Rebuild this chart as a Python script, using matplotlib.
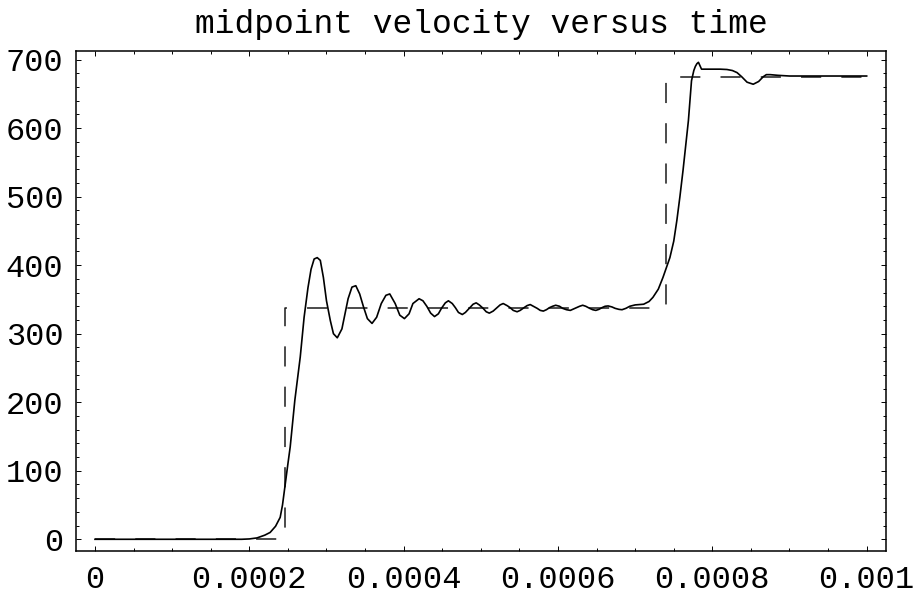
import numpy as np
import matplotlib
matplotlib.use("Agg")
import matplotlib.pyplot as plt
from matplotlib.ticker import MultipleLocator

# midpoint velocity (time in s, velocity)
time = [0, 0.000100, 0.000190, 0.000200, 0.000210, 0.000220, 0.000227, 0.000234,
        0.000240, 0.000243, 0.000246, 0.000250, 0.000253, 0.000259, 0.000266,
        0.000271, 0.000276, 0.000280, 0.000284, 0.000288, 0.000292, 0.000296,
        0.000300, 0.000305, 0.000309, 0.000314, 0.000320, 0.000324, 0.000328,
        0.000333, 0.000338, 0.000343, 0.000348, 0.000353, 0.000359, 0.000365,
        0.000371, 0.000377, 0.000382, 0.000389, 0.000395, 0.000401, 0.000407,
        0.000412, 0.000420, 0.000425, 0.000430, 0.000435, 0.000440, 0.000445,
        0.000449, 0.000454, 0.000458, 0.000463, 0.000467, 0.000471, 0.000476,
        0.000480, 0.000485, 0.000490, 0.000494, 0.000498, 0.000503, 0.000507,
        0.000511, 0.000516, 0.000520, 0.000525, 0.000529, 0.000534, 0.000538,
        0.000542, 0.000547, 0.000551, 0.000556, 0.000560, 0.000564, 0.000568,
        0.000573, 0.000577, 0.000581, 0.000585, 0.000589, 0.000593, 0.000597,
        0.000602, 0.000606, 0.000611, 0.000616, 0.000620, 0.000624, 0.000628,
        0.000632, 0.000636, 0.000641, 0.000645, 0.000649, 0.000653, 0.000657,
        0.000661, 0.000665, 0.000670, 0.000674, 0.000679, 0.000683, 0.000688,
        0.000693, 0.000700, 0.000711, 0.000718, 0.000723, 0.000730, 0.000736,
        0.000741, 0.000745, 0.000750, 0.000754, 0.000758, 0.000762, 0.000766,
        0.000769, 0.000771, 0.000773, 0.000776, 0.000778, 0.000780, 0.000782,
        0.000784, 0.000786, 0.000790, 0.000800, 0.000810, 0.000819, 0.000826,
        0.000832, 0.000838, 0.000845, 0.000853, 0.000860, 0.000866, 0.000870,
        0.000875, 0.000885, 0.000900, 0.000950, 0.001000]
velocity = [0, 0, 0, 0.5, 2, 6, 10, 19,
            32, 50, 76, 110, 135, 203, 266,
            324, 367, 394, 409, 411, 407, 382,
            348, 319, 300, 294, 307, 329, 351,
            368, 370, 358, 339, 322, 315, 324,
            344, 356, 358, 344, 327, 322, 329,
            344, 351, 348, 340, 330, 325, 329,
            337, 345, 348, 344, 338, 331, 328,
            331, 337, 343, 345, 342, 337, 332,
            330, 333, 337, 342, 344, 341, 338,
            334, 332, 334, 338, 341, 342.5, 340,
            337, 334, 333, 335, 338, 340, 341.5,
            340, 337, 335, 334, 336, 338, 340,
            341.5, 340, 337, 335, 334, 335.5, 338,
            340, 340.5, 339, 337, 335.5, 335, 337,
            340, 342, 343, 347, 353, 365, 382,
            398, 411, 435, 465, 500, 538, 580,
            611, 640, 669, 684, 690, 694, 696,
            691, 686, 686, 686, 686, 685.5, 684,
            681, 675, 667, 664, 668, 675, 678,
            678, 677, 676, 676, 676]

# ideal step response (dashed)
step_time = [0, 0.000246, 0.000246, 0.000740, 0.000740, 0.001000]
step_velocity = [0, 0, 338, 338, 675, 675]

xtick_pos = [0, 0.0002, 0.0004, 0.0006, 0.0008, 0.001]
xtick_labels = ["0", "0.0002", "0.0004", "0.0006", "0.0008", "0.001"]
ytick_pos = [0, 100, 200, 300, 400, 500, 600, 700]

plt.rcParams['font.family'] = ['Liberation Mono', 'DejaVu Sans Mono']
plt.rcParams['lines.scale_dashes'] = False

fig = plt.figure(figsize=(9.2, 5.96), dpi=100)
ax = fig.add_axes([0.0826, 0.0755, 0.8804, 0.8395])

ax.plot(step_time, step_velocity, color='#1a1a1a', lw=1.1, dashes=(14.5, 14.5))
ax.plot(time, velocity, color='black', lw=1.2)

ax.set_xlim(-2.46e-5, 0.001025)
ax.set_ylim(-17.1, 713)

ax.set_xticks(xtick_pos)
ax.set_xticklabels(xtick_labels)
ax.set_yticks(ytick_pos)
ax.xaxis.set_minor_locator(MultipleLocator(0.00005))
ax.yaxis.set_minor_locator(MultipleLocator(20))

ax.tick_params(which='both', direction='in', top=True, right=True,
               labelsize=23, width=0.7, colors='black')
ax.tick_params(which='major', length=3.8)
ax.tick_params(which='minor', length=2.2)
ax.tick_params(axis='x', pad=10)
ax.tick_params(axis='y', pad=9)

for s in ax.spines.values():
    s.set_linewidth(1.1)

ax.set_title("midpoint velocity versus time", fontsize=23.7, pad=13)

fig.savefig("out.png", dpi=100)
